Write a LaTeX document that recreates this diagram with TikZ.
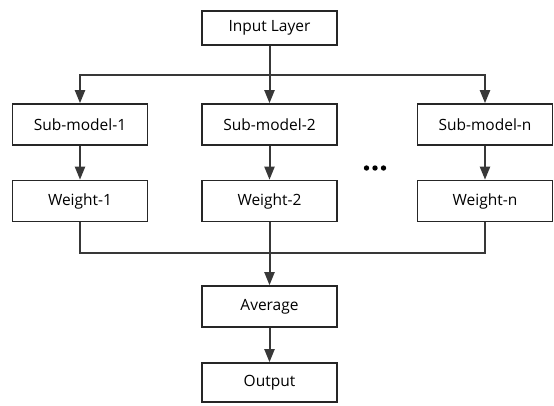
\documentclass[tikz,border=0pt]{standalone}
\usepackage{fontspec}
\setmainfont{Open Sans}
\usetikzlibrary{arrows.meta}

\begin{document}
\begin{tikzpicture}[x=1pt, y=-1pt,
	box/.style={draw=black!85, line width=1.6pt, minimum width=135pt, minimum height=41pt, inner sep=0pt, font=\fontsize{15.5}{18}\selectfont},
	arr/.style={draw=black!78, line width=2pt, -{Triangle[width=10pt,length=13pt]}},
	wire/.style={draw=black!78, line width=1.8pt}]
	\useasboundingbox (0,0) rectangle (554,405);
	\node[box, minimum height=34pt] (input) at (269.5,28) {Input Layer};
	\node[box] (sub1) at (80,124.5) {Sub-model-1};
	\node[box] (sub2) at (269.5,124.5) {Sub-model-2};
	\node[box] (subn) at (485,124.5) {Sub-model-n};
	\node[box] (w1) at (80,201) {Weight-1};
	\node[box] (w2) at (269.5,201) {Weight-2};
	\node[box] (wn) at (485,201) {Weight-n};
	\node[box] (avg) at (269.5,306.5) {Average};
	\node[box, minimum height=39pt] (out) at (269.5,382.5) {Output};
	\coordinate (split) at (269.5,75);
	\coordinate (merge) at (269.5,253);
	\foreach \i in {-1,0,1}
		\fill (375+\i*8.5,168) circle (2.7);
	% fan out
	\draw[arr] (input) -- (sub2);
	\draw[arr] (split) -| (sub1);
	\draw[arr] (split) -| (subn);
	\draw[arr] (sub1) -- (w1);
	\draw[arr] (sub2) -- (w2);
	\draw[arr] (subn) -- (wn);
	% merge
	\draw[wire] (w1) |- (merge);
	\draw[wire] (wn) |- (merge);
	\draw[arr] (w2) -- (avg);
	\draw[arr] (avg) -- (out);
\end{tikzpicture}
\end{document}
